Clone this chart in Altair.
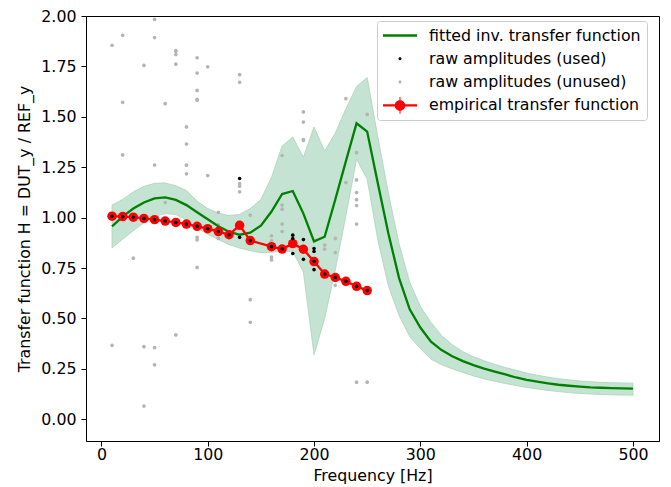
import altair as alt
import pandas as pd

# ---------------- data ----------------
FIT_FREQ = [10, 20, 30, 40, 50, 60, 70, 80, 90, 100, 110, 120, 130, 140, 150, 160, 170, 180, 190, 200,
            210, 220, 230, 240, 250, 260, 270, 280, 290, 300, 310, 320, 330, 340, 350, 360, 370, 380, 390, 400,
            410, 420, 430, 440, 450, 460, 470, 480, 490, 500]
FIT_VAL = [0.957, 1.005, 1.045, 1.075, 1.095, 1.100, 1.088, 1.062, 1.027, 0.992, 0.957, 0.930, 0.915, 0.925,
           0.960, 1.030, 1.117, 1.132, 1.020, 0.882, 0.905, 1.090, 1.280, 1.468, 1.427, 1.170, 0.920, 0.700,
           0.545, 0.455, 0.385, 0.343, 0.312, 0.288, 0.268, 0.251, 0.236, 0.222, 0.207, 0.195, 0.186, 0.178,
           0.171, 0.166, 0.162, 0.158, 0.156, 0.154, 0.153, 0.152]
FIT_UP = [1.063, 1.090, 1.128, 1.155, 1.170, 1.172, 1.158, 1.135, 1.082, 1.045, 1.022, 1.010, 1.016, 1.045,
          1.090, 1.200, 1.355, 1.400, 1.300, 1.450, 1.330, 1.420, 1.540, 1.650, 1.695, 1.400, 1.120, 0.870,
          0.680, 0.560, 0.480, 0.415, 0.370, 0.335, 0.310, 0.290, 0.272, 0.257, 0.243, 0.229, 0.218, 0.209,
          0.201, 0.195, 0.190, 0.186, 0.183, 0.181, 0.180, 0.179]
FIT_LO = [0.850, 0.893, 0.935, 0.975, 1.005, 1.020, 1.015, 0.990, 0.948, 0.918, 0.892, 0.866, 0.849, 0.836,
          0.826, 0.828, 0.833, 0.832, 0.730, 0.320, 0.500, 0.740, 1.010, 1.290, 1.190, 0.890, 0.660, 0.515,
          0.410, 0.350, 0.298, 0.270, 0.250, 0.232, 0.215, 0.200, 0.188, 0.177, 0.167, 0.158, 0.150, 0.143,
          0.137, 0.132, 0.128, 0.125, 0.123, 0.121, 0.120, 0.119]

EMP_FREQ = [10, 20, 30, 40, 50, 60, 70, 80, 90, 100, 110, 120, 130, 140, 160, 170, 180, 190, 200,
            210, 220, 230, 240, 250]
EMP_VAL = [1.007, 1.005, 1.002, 0.996, 0.990, 0.983, 0.976, 0.968, 0.957, 0.945, 0.931, 0.915, 0.962,
           0.886, 0.856, 0.844, 0.871, 0.843, 0.782, 0.720, 0.703, 0.684, 0.659, 0.638]

USED_FREQ = [10, 20, 30, 40, 50, 60, 70, 80, 90, 100, 110, 120, 130, 130, 140, 160, 170,
             180, 180, 180, 190, 190, 200, 200, 200, 200, 210, 220, 230, 240, 250]
USED_VAL = [1.007, 1.005, 1.002, 0.996, 0.990, 0.983, 0.976, 0.968, 0.957, 0.945, 0.931, 0.915,
            1.194, 0.902, 0.886, 0.856, 0.844, 0.913, 0.896, 0.822, 0.891, 0.793,
            0.847, 0.832, 0.782, 0.742, 0.720, 0.703, 0.684, 0.659, 0.638]

UNUSED_FREQ = [10, 10, 20, 20, 20, 30, 40, 40, 40, 50, 50, 50, 50, 50, 60, 60,
               70, 70, 70, 70, 70, 80, 80, 80, 80, 90, 90, 90, 90, 90, 90, 90, 90,
               100, 100, 110, 110, 110, 110, 130, 130, 130, 130, 130, 140, 140, 140,
               160, 160, 160, 160, 170, 170, 170, 170, 170, 190, 190, 190, 190,
               210, 210, 220, 220, 220, 230, 230, 240, 240, 240, 240, 240, 240, 240, 250, 250]
UNUSED_VAL = [1.855, 0.367, 1.904, 1.572, 1.311, 0.799, 1.755, 0.360, 0.065, 1.983, 1.893, 1.261, 0.355, 0.270,
              1.565, 1.075, 1.829, 1.825, 1.809, 1.761, 0.418, 1.450, 1.365, 1.260, 1.217,
              1.793, 1.717, 1.631, 1.587, 1.582, 0.902, 0.890, 0.753, 1.748, 1.209, 1.026, 0.964, 0.918, 0.897,
              1.709, 1.671, 1.169, 1.156, 1.128, 1.012, 0.593, 0.481, 0.910, 0.885, 0.804, 0.790,
              1.308, 1.062, 1.042, 0.968, 0.931, 1.524, 1.474, 1.387, 1.383, 0.864, 0.844,
              0.897, 0.827, 0.664, 1.590, 1.174, 1.322, 1.187, 1.124, 1.089, 1.060, 0.968, 0.184, 1.512, 0.184]

SERIES = ["fitted inv. transfer function", "raw amplitudes (used)",
          "raw amplitudes (unused)", "empirical transfer function"]
SERIES_COLORS = ["#008000", "#000000", "#b4b4b4", "#ff0000"]
DOT = "M-0.09,0A0.09,0.09 0 1,1 0.09,0A0.09,0.09 0 1,1 -0.09,0Z"
SERIES_SHAPES = [
    "M-1,-0.068H1V0.068H-1Z",
    DOT,
    DOT,
    "M-1,-0.068H1V0.068H-1Z M-0.31,0A0.31,0.31 0 1,1 0.31,0A0.31,0.31 0 1,1 -0.31,0Z "
    "M-0.03,-0.49H0.03V0.49H-0.03Z",
]

X_TICKS = [0, 100, 200, 300, 400, 500]
Y_TICKS = [0.0, 0.25, 0.5, 0.75, 1.0, 1.25, 1.5, 1.75, 2.0]

FONT = "DejaVu Sans"
FS = 15.8

# ---------------- frames ----------------
fit_df = pd.DataFrame({"freq": FIT_FREQ, "val": FIT_VAL, "up": FIT_UP, "lo": FIT_LO})
emp_df = pd.DataFrame({"freq": EMP_FREQ, "val": EMP_VAL})
used_df = pd.DataFrame({"freq": USED_FREQ, "val": USED_VAL})
unused_df = pd.DataFrame({"freq": UNUSED_FREQ, "val": UNUSED_VAL, "series": SERIES[2]})

xs = alt.Scale(domain=[-14.5, 524.5], nice=False, zero=False)
ys = alt.Scale(domain=[-0.108, 2.0], nice=False, zero=False)
x_axis = alt.Axis(values=X_TICKS, title="Frequency [Hz]", format="d", labelPadding=1, titlePadding=7)
y_axis = alt.Axis(values=Y_TICKS, title="Transfer function H = DUT_y / REF_y", format=".2f",
                  labelPadding=5, titlePadding=8)


def X(f):
    return alt.X(f"{f}:Q", scale=xs, axis=x_axis)


def Y(f):
    return alt.Y(f"{f}:Q", scale=ys, axis=y_axis)


legend = alt.Legend(orient="none", legendX=291, legendY=5, title=None, labelFont=FONT,
                    labelFontSize=FS, labelColor="black", symbolSize=1156, symbolStrokeWidth=0,
                    padding=6, labelOffset=12, rowPadding=6.3, clipHeight=17, symbolOffset=0,
                    fillColor="rgba(255,255,255,0.8)", strokeColor="#cccccc", cornerRadius=3,
                    labelLimit=400, symbolOpacity=1)

band = alt.Chart(fit_df).mark_area(color="#c4e3d2", stroke="#a8d4bb", strokeWidth=0.8).encode(
    x=X("freq"), y=Y("lo"), y2="up")

unused = alt.Chart(unused_df).mark_point(filled=True, size=1690, opacity=1, strokeWidth=0).encode(
    x=X("freq"), y=Y("val"),
    color=alt.Color("series:N", scale=alt.Scale(domain=SERIES, range=SERIES_COLORS), legend=legend),
    shape=alt.Shape("series:N", scale=alt.Scale(domain=SERIES, range=SERIES_SHAPES), legend=legend),
)

fit_line = alt.Chart(fit_df).mark_line(color="#008000", strokeWidth=2.3).encode(x=X("freq"), y=Y("val"))

emp_line = alt.Chart(emp_df).mark_line(color="#ff0000", strokeWidth=2.3).encode(x=X("freq"), y=Y("val"))
emp_pts = alt.Chart(emp_df).mark_circle(color="#ff0000", size=90, opacity=1).encode(x=X("freq"), y=Y("val"))

used = alt.Chart(used_df).mark_circle(color="#000000", size=13, opacity=1).encode(x=X("freq"), y=Y("val"))

chart = alt.layer(band, unused, fit_line, emp_line, emp_pts, used).properties(
    width=573, height=425,
    autosize=alt.AutoSizeParams(type="none"),
    padding={"left": 78, "top": 8, "right": 4, "bottom": 46},
    background="white",
).configure_view(stroke="black", strokeWidth=1).configure_axis(
    grid=False, domainColor="black", domainWidth=1, tickColor="black", tickSize=5, tickWidth=1,
    labelFont=FONT, labelFontSize=FS, labelColor="black",
    titleFont=FONT, titleFontSize=FS, titleFontWeight="normal", titleColor="black",
)

chart.save("out.html", embed_options={"renderer": "svg", "actions": False})
